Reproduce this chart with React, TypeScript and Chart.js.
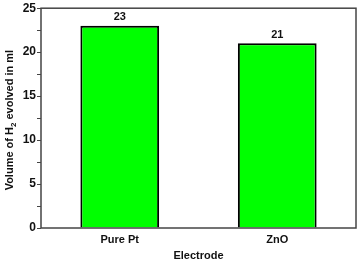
import React, { useEffect, useRef } from "react";
import { Chart, registerables } from "chart.js";

Chart.register(...registerables);

const categories = ["Pure Pt", "ZnO"];
const volumes = [23, 21];
const yTitleParts = ["Volume of H", "2", " evolved in ml"];
const xTitle = "Electrode";

const FONT = "'Liberation Sans', Arial, sans-serif";

const framePlugin = {
  id: "frame",
  afterDatasetsDraw(chart: any) {
    const { ctx, chartArea } = chart;
    ctx.save();
    ctx.strokeStyle = "#444";
    ctx.lineWidth = 1.5;
    ctx.strokeRect(chartArea.left, chartArea.top, chartArea.right - chartArea.left, chartArea.bottom - chartArea.top);
    // value labels
    const meta = chart.getDatasetMeta(0);
    ctx.fillStyle = "#111";
    ctx.font = `bold 11px ${FONT}`;
    ctx.textAlign = "center";
    ctx.textBaseline = "bottom";
    meta.data.forEach((bar: any, i: number) => {
      ctx.fillText(String(chart.data.datasets[0].data[i]), bar.x, bar.y - 3);
    });
    // y title with subscript
    const big = `bold 11px ${FONT}`;
    const small = `bold 8px ${FONT}`;
    ctx.font = big;
    const w0 = ctx.measureText(yTitleParts[0]).width;
    const w2 = ctx.measureText(yTitleParts[2]).width;
    ctx.font = small;
    const w1 = ctx.measureText(yTitleParts[1]).width;
    const total = w0 + w1 + w2;
    const cy = (chartArea.top + chartArea.bottom) / 2 + 2;
    ctx.translate(13, cy);
    ctx.rotate(-Math.PI / 2);
    ctx.textAlign = "left";
    ctx.textBaseline = "alphabetic";
    let x = -total / 2;
    ctx.font = big;
    ctx.fillText(yTitleParts[0], x, 0);
    x += w0;
    ctx.font = small;
    ctx.fillText(yTitleParts[1], x, 3);
    x += w1;
    ctx.font = big;
    ctx.fillText(yTitleParts[2], x, 0);
    ctx.restore();
  },
};

export default function App() {
  const ref = useRef<HTMLCanvasElement>(null);
  useEffect(() => {
    document.body.style.margin = "0";
    const chart = new Chart(ref.current!, {
      type: "bar",
      data: {
        labels: categories,
        datasets: [
          {
            data: volumes,
            backgroundColor: "#00FF00",
            borderColor: "#000",
            borderWidth: 2,
            barPercentage: 0.5,
            categoryPercentage: 1,
          },
        ],
      },
      options: {
        animation: false,
        responsive: false,
        layout: { padding: { top: 6, right: 1, left: 0, bottom: 0 } },
        plugins: { legend: { display: false }, tooltip: { enabled: false } },
        scales: {
          x: {
            grid: { display: false, drawTicks: false },
            border: { display: false },
            ticks: { color: "#111", font: { family: FONT, size: 11, weight: "bold" }, padding: 5 },
            title: { display: true, text: xTitle, color: "#111", font: { family: FONT, size: 11, weight: "bold", lineHeight: 1.0 }, padding: 0 },
            afterFit: (s: any) => { s.height = 33; },
          },
          y: {
            min: 0,
            max: 25,
            grid: { drawOnChartArea: false, tickLength: 4, color: "#444", tickWidth: 1 },
            border: { display: false },
            ticks: {
              stepSize: 2.5,
              autoSkip: false,
              padding: 1,
              color: "#111",
              font: { family: FONT, size: 12, weight: "bold" },
              callback: (v: any) => (Number(v) % 5 === 0 ? String(v) : ""),
            },
            afterFit: (s: any) => { s.width = 41; },
          },
        },
      },
      plugins: [framePlugin],
    });
    return () => chart.destroy();
  }, []);
  return (
    <div style={{ width: 357, height: 261 }}>
      <canvas ref={ref} width={357} height={261} style={{ width: 357, height: 261 }} />
    </div>
  );
}
